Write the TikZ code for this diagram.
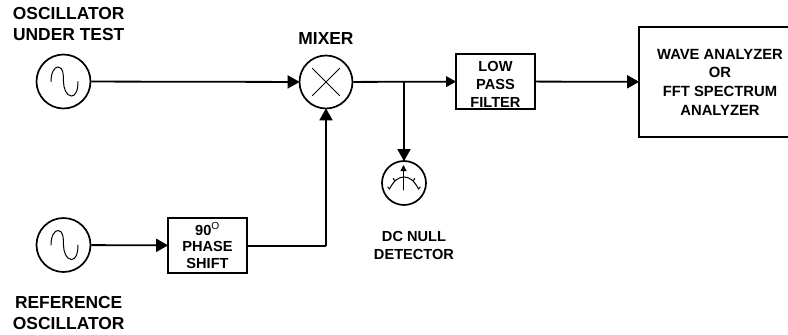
\documentclass[tikz,border=0pt]{standalone}
\usepackage{fontspec}
\setmainfont{Liberation Sans}
\usetikzlibrary{arrows.meta}
\tikzset{
	bigtext/.style={font=\fontsize{17.4}{21}\selectfont\bfseries,align=center,inner sep=0pt},
	smalltext/.style={font=\fontsize{14.6}{18}\selectfont\bfseries,align=center,inner sep=0pt},
	blockbox/.style={draw,line width=1.7pt,align=center,inner sep=0pt,font=\fontsize{14.6}{18}\selectfont\bfseries},
	roundbox/.style={draw,circle,line width=1.7pt,inner sep=0pt},
	wire/.style={line width=1.8pt},
	bigtip/.style={wire,-{Triangle[length=12pt,width=13pt]},shorten >=-1pt},
	smalltip/.style={wire,-{Triangle[length=10pt,width=10.5pt]},shorten >=-1pt},
	thinline/.style={line width=1pt,line cap=round}
}
\begin{document}
\begin{tikzpicture}[x=1pt,y=-1pt]
	\clip (0,0) rectangle (788,335);
	% sources and blocks
	\node[roundbox,minimum size=54pt] (oscut) at (63.5,81.5) {};
	\node[roundbox,minimum size=54pt] (oscref) at (63.5,245) {};
	\node[roundbox,minimum size=53pt] (mixer) at (326,82) {};
	\node[roundbox,minimum size=44pt] (meter) at (404,183) {};
	\node[blockbox,minimum width=79pt,minimum height=55pt,font=\fontsize{14.6}{16.6}\selectfont\bfseries] (phase) at (207.5,245.5) {90\textsuperscript{\mdseries O}\\PHASE\\SHIFT};
	\node[blockbox,minimum width=79pt,minimum height=55pt] (lowpass) at (495.5,81.5) {\rule{0pt}{15pt}LOW\\PASS\\FILTER};
	\node[blockbox,minimum width=162pt,minimum height=110pt,font=\fontsize{14.8}{18.7}\selectfont\bfseries] (analyzer) at (720,82) {WAVE ANALYZER\\OR\\FFT SPECTRUM\\ANALYZER};
	\coordinate (dcjoin) at (404,82);
	\coordinate (mixcorner) at (326,246);
	% labels
	\node[bigtext] (oscutlab) at (68.7,24) {OSCILLATOR\\UNDER TEST};
	\node[bigtext] (oscreflab) at (68.7,313.5) {REFERENCE\\OSCILLATOR};
	\node[bigtext] (mixerlab) at (326,39) {MIXER};
	\node[smalltext] (meterlab) at (414,245) {DC NULL\\DETECTOR};
	% connectors
	\draw[bigtip] (oscut) -- (mixer);
	\draw[bigtip] (oscref) -- (phase);
	\draw[wire] (phase.east |- mixcorner) -- (mixcorner);
	\draw[bigtip] (mixcorner) -- (mixer);
	\draw[smalltip] (mixer) -- (lowpass);
	\draw[bigtip] (lowpass) -- (analyzer);
	\draw[bigtip] (dcjoin) -- (meter);
	% sine in the two sources
	\foreach \osc in {oscut,oscref} {
		\draw[thinline,shift={(\osc)}] (-12.5,0) .. controls (-12.5,-9) and (-9,-14.5) .. (-5.5,-14.5)
			.. controls (0,-14.5) and (0,-6) .. (0,0)
			.. controls (0,6) and (2.5,14.5) .. (8,14.5)
			.. controls (12,14.5) and (14.5,9) .. (14.5,0);
	}
	% cross in the mixer
	\draw[thinline,shift={(mixer)}] (-13.5,-13.5) -- (13.5,13.5);
	\draw[thinline,shift={(mixer)}] (-13.5,13.5) -- (13.5,-13.5);
	% dial of the detector
	\draw[thinline,shift={(meter)}] (-14.5,6) .. controls (-10,-3) and (-5,-6) .. (0,-6)
		.. controls (5,-6) and (10,-3) .. (14.5,6);
	\draw[thinline,-{Triangle[length=6pt,width=6pt]},shift={(meter)}] (-0.5,7) -- (-0.5,-18);
	\foreach \tickx/\ticky in {-14.5/6,-9.5/-2.5,9.5/-2.5,14.5/6} {
		\draw[thinline,shift={(meter)}] (\tickx,\ticky) -- ++(\tickx*0.12,-2);
	}
\end{tikzpicture}
\end{document}
